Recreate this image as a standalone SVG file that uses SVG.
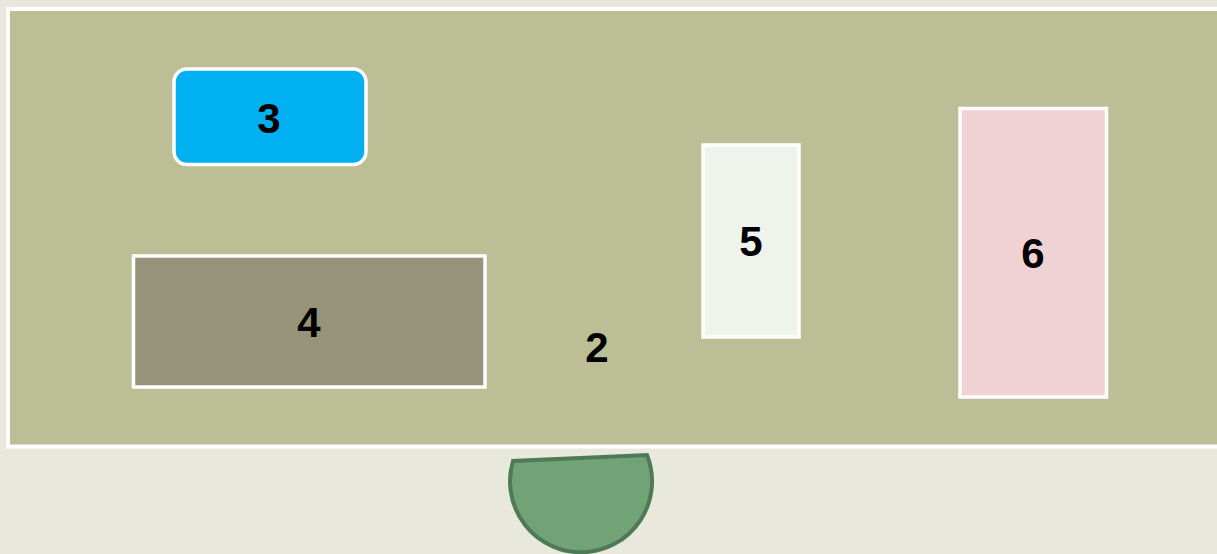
<svg xmlns="http://www.w3.org/2000/svg" width="1217" height="554" viewBox="0 0 1217 554">
<style>
.box{stroke:#ffffff;stroke-width:3.5}
.lbl{font-family:"Liberation Sans",Arial,sans-serif;font-weight:bold;font-size:42px;fill:#000000;text-anchor:middle;dominant-baseline:central}
</style>
<rect x="0" y="0" width="1217" height="554" fill="#e9e8dd"/>
<g id="node2">
<rect x="8" y="9" width="1222" height="437.5" fill="#bcbf96" stroke="#ffffff" stroke-width="4"/>
<text class="lbl" x="597" y="347">2</text>
</g>
<g id="node3">
<rect class="box" x="174" y="69" width="192" height="95.5" rx="13" fill="#00b0f0"/>
<text class="lbl" x="269" y="118">3</text>
</g>
<g id="node4">
<rect class="box" x="133.5" y="256" width="351.5" height="131" fill="#97937a"/>
<text class="lbl" x="309" y="322">4</text>
</g>
<g id="node5">
<rect class="box" x="703" y="145" width="96" height="192" fill="#eef3ec"/>
<text class="lbl" x="751" y="241">5</text>
</g>
<g id="node6">
<rect class="box" x="960" y="108.5" width="146.5" height="288.5" fill="#f0d2d5"/>
<text class="lbl" x="1033" y="253">6</text>
</g>
<g id="node7">
<path d="M513,461 A71,71 0 1 0 647,455 Z" fill="#71a377" stroke="#4e7a55" stroke-width="4"/>
</g>
<g id="connectors"></g>
</svg>
